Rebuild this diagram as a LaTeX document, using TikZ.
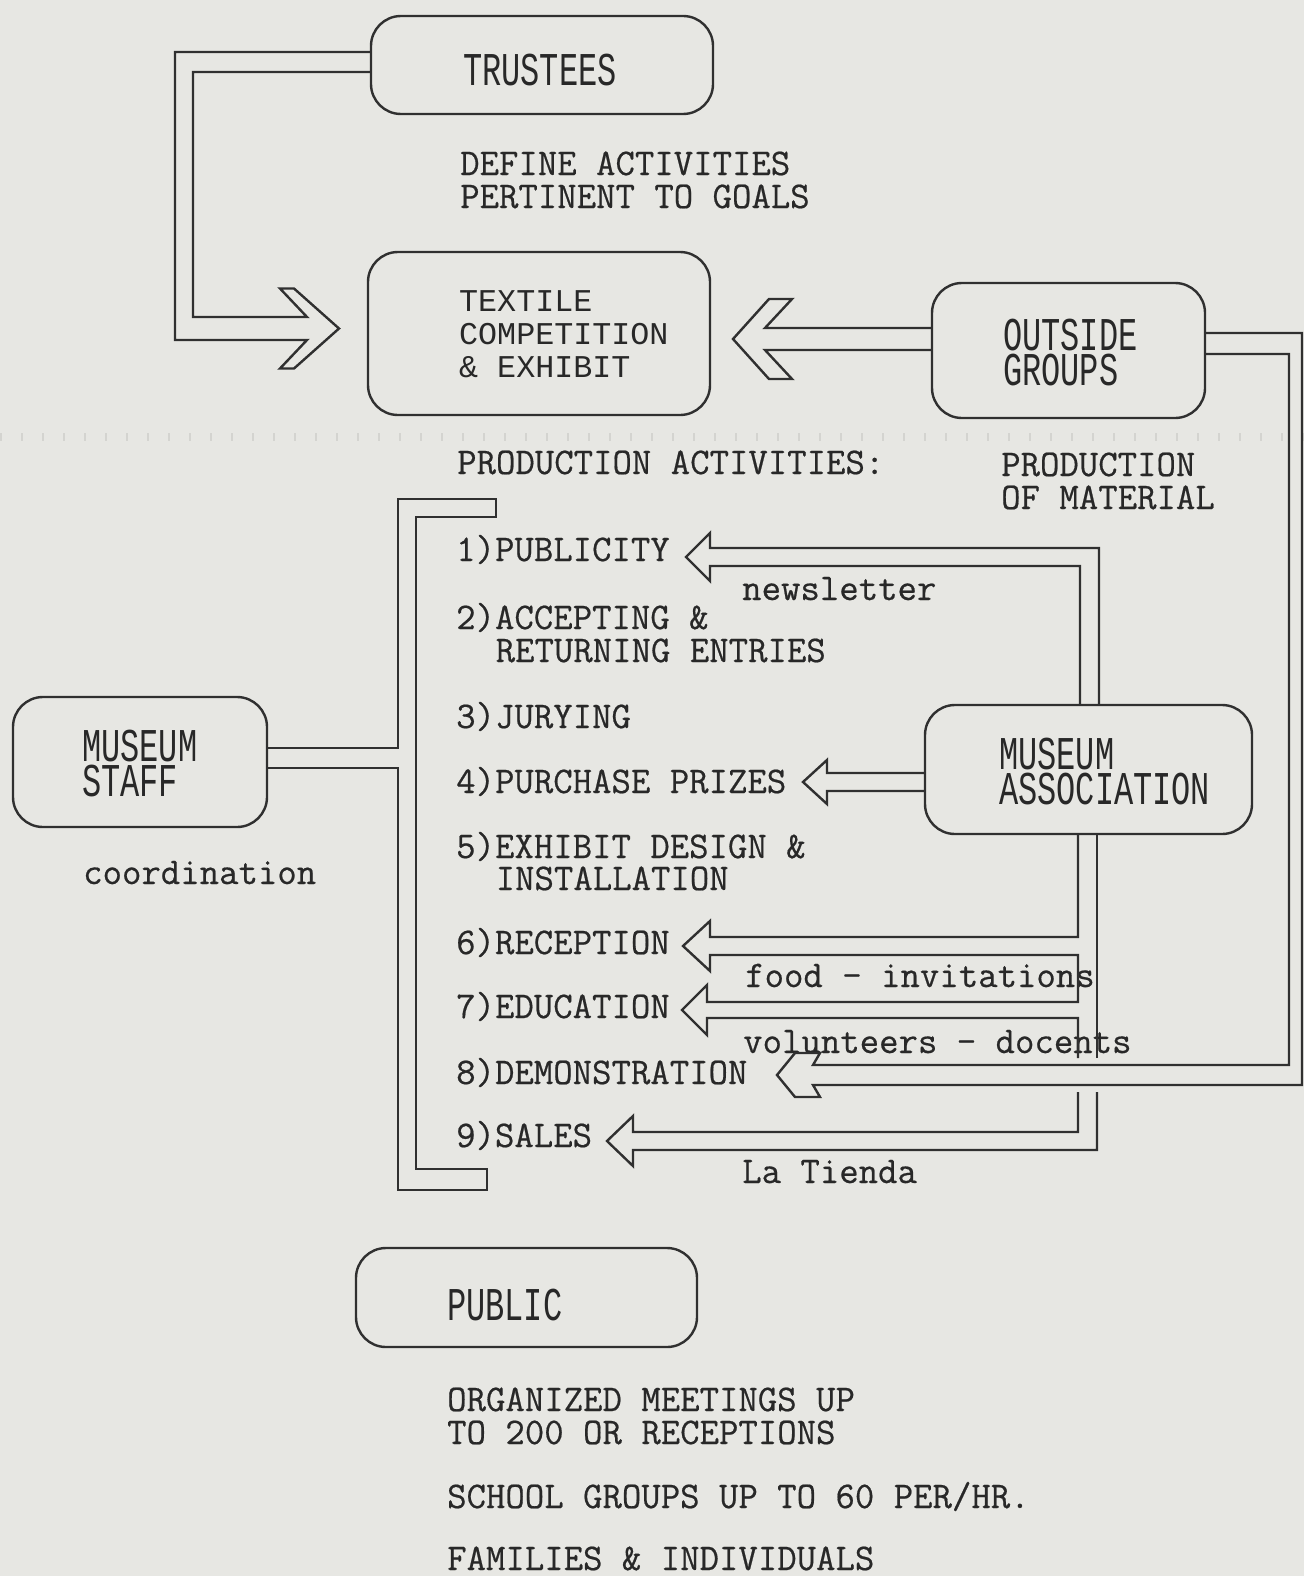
\documentclass[tikz,border=0pt]{standalone}
\usepackage{fontspec}
\newfontfamily\letterfont[FakeStretch=0.68]{Liberation Mono}
\newfontfamily\platefont{Liberation Mono}
\newfontfamily\typefont[FakeBold=0.5]{Latin Modern Mono}
\definecolor{paper}{RGB}{231,231,227}
\definecolor{inkc}{RGB}{48,48,48}
\definecolor{inkt}{RGB}{40,40,40}
\definecolor{tickc}{RGB}{212,212,208}
\tikzset{
  wall/.style={draw=inkc, line width=2.4pt, line join=miter},
  box/.style={draw=inkc, line width=2.4pt, rounded corners=30pt, inner sep=0pt},
  lettering/.style={anchor=base west, inner sep=0pt, text=inkt,
    text height=32pt, text depth=0pt,
    font=\letterfont\fontsize{47}{47}\selectfont},
  plate/.style={anchor=base west, inner sep=0pt, text=inkt,
    text height=21pt, text depth=0pt,
    font=\platefont\fontsize{31.7}{33}\selectfont},
  typed/.style={anchor=base west, inner sep=0pt, text=inkt,
    font=\typefont\fontsize{37.7}{33}\selectfont},
  tickline/.style={draw=tickc, line width=8pt, dash pattern=on 2pt off 19pt},
}
\begin{document}
\begin{tikzpicture}[x=1pt,y=-1pt]
\fill[paper] (0,0) rectangle (1304,1576);
\useasboundingbox (0,0) rectangle (1304,1576);

% faint row of ticks across the sheet
\draw[tickline] (0,437) -- (1304,437);

% ---------- boxes ----------
\node[box, minimum width=342pt, minimum height=98pt]  (trustees) at (542,65) {};
\node[box, minimum width=342pt, minimum height=163pt] (textile)  at (539,333.5) {};
\node[box, minimum width=273pt, minimum height=135pt] (outside)  at (1068.5,350.5) {};
\node[box, minimum width=254pt, minimum height=130pt] (staff)    at (140,762) {};
\node[box, minimum width=327pt, minimum height=129pt] (assoc)    at (1088.5,769.5) {};
\node[box, minimum width=341pt, minimum height=99pt]  (public)   at (526.5,1297.5) {};

% ---------- box labels ----------
\node[lettering] (trusteesT) at (463,86) {TRUSTEES};
\node[plate] (textileA) at (459,311) {TEXTILE};
\node[plate] (textileB) at (459,344) {COMPETITION};
\node[plate] (textileC) at (459,377) {\& EXHIBIT};
\node[lettering] (outsideA) at (1003,350) {OUTSIDE};
\node[lettering] (outsideB) at (1003,385) {GROUPS};
\node[lettering] (staffA) at (82,761) {MUSEUM};
\node[lettering] (staffB) at (82,796) {STAFF};
\node[lettering] (assocA) at (999,769) {MUSEUM};
\node[lettering] (assocB) at (999,804) {ASSOCIATION};
\node[lettering] (publicT) at (447,1320) {PUBLIC};

% ---------- typed notes ----------
\node[typed] (defA) at (460,175) {DEFINE ACTIVITIES};
\node[typed] (defB) at (460,208) {PERTINENT TO GOALS};
\node[typed] (prodAct) at (457,474) {PRODUCTION ACTIVITIES:};
\node[typed] (prodA) at (1001,476) {PRODUCTION};
\node[typed] (prodB) at (1001,509) {OF MATERIAL};
\node[typed] (itemA) at (456,561) {1)PUBLICITY};
\node[typed] (newsl) at (742,600) {newsletter};
\node[typed] (itemB) at (456,629) {2)ACCEPTING \&};
\node[typed] (itemBb) at (495.5,662) {RETURNING ENTRIES};
\node[typed] (itemC) at (456,728) {3)JURYING};
\node[typed] (itemD) at (456,793) {4)PURCHASE PRIZES};
\node[typed] (itemE) at (456,858) {5)EXHIBIT DESIGN \&};
\node[typed] (itemEb) at (495.5,890) {INSTALLATION};
\node[typed] (itemF) at (456,954) {6)RECEPTION};
\node[typed] (food) at (745,987) {food - invitations};
\node[typed] (itemG) at (456,1018) {7)EDUCATION};
\node[typed] (volun) at (743,1053) {volunteers - docents};
\node[typed] (itemH) at (456,1084) {8)DEMONSTRATION};
\node[typed] (itemI) at (456,1147) {9)SALES};
\node[typed] (tienda) at (742,1183) {La Tienda};
\node[typed] (coord) at (83,884) {coordination};
\node[typed] (pubA) at (447,1411) {ORGANIZED MEETINGS UP};
\node[typed] (pubB) at (447,1444) {TO 200 OR RECEPTIONS};
\node[typed] (pubC) at (447,1508) {SCHOOL GROUPS UP TO 60 PER/HR.};
\node[typed] (pubD) at (447,1570) {FAMILIES \& INDIVIDUALS};

% ---------- pipes and hollow arrows ----------
% trustees -> textile competition
\draw[wall] (trustees.west |- 0,52) -- (175,52) -- (175,340) -- (307,340)
  -- (280,368.5) -- (294,368.5) -- (339,328.5) -- (294,288.5) -- (280,288.5)
  -- (307,317) -- (193,317) -- (193,72) -- (trustees.west |- 0,72);

% outside groups -> textile competition
\draw[wall] (outside.west |- 0,328) -- (765,328) -- (792,299) -- (769,299)
  -- (733,339) -- (769,379) -- (792,379) -- (765,350) -- (outside.west |- 0,350);

% outside groups -> demonstration
\draw[wall] (outside.east |- 0,333) -- (1302,333) -- (1302,1085) -- (813,1085)
  -- (820,1097) -- (795,1097) -- (777,1075) -- (795,1053) -- (820,1053)
  -- (813,1065) -- (1289,1065) -- (1289,354) -- (outside.east |- 0,354);

% museum association -> publicity
\draw[wall] (1099,0 |- assoc.north) -- (1099,548) -- (710,548) -- (710,533)
  -- (686,557) -- (710,581) -- (710,566) -- (1080,566) -- (1080,0 |- assoc.north);

% museum association -> purchase prizes
\draw[wall] (assoc.west |- 0,773) -- (827,773) -- (827,760) -- (803,782)
  -- (827,804) -- (827,791) -- (assoc.west |- 0,791);

% museum association -> reception, education
\draw[wall] (1078,0 |- assoc.south) -- (1078,937) -- (710,937) -- (710,921)
  -- (683,946) -- (710,971) -- (710,955) -- (1078,955) -- (1078,1002)
  -- (707,1002) -- (707,985) -- (682,1010) -- (707,1035) -- (707,1018)
  -- (1078,1018) -- (1078,1058);
% museum association -> sales
\draw[wall] (1078,1092) -- (1078,1132) -- (633,1132) -- (633,1116) -- (607,1141)
  -- (633,1166) -- (633,1150) -- (1097,1150) -- (1097,1092);
\draw[wall] (1097,1058) -- (1097,0 |- assoc.south);

% museum staff -> bracket round the production activities
\draw[wall] (staff.east |- 0,748) -- (398,748) -- (398,499) -- (496,499)
  -- (496,517) -- (416,517) -- (416,1169) -- (487,1169) -- (487,1190)
  -- (398,1190) -- (398,768) -- (staff.east |- 0,768);
\end{tikzpicture}
\end{document}
